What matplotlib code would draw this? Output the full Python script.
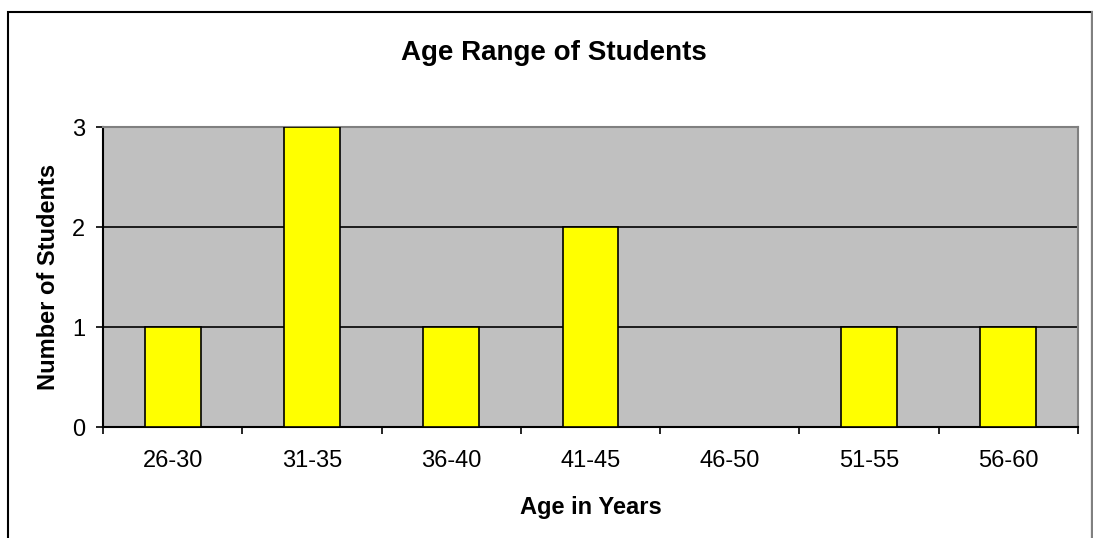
import numpy as np
import matplotlib.pyplot as plt
from matplotlib.patches import Rectangle

age_ranges = ['26-30', '31-35', '36-40', '41-45', '46-50', '51-55', '56-60']
students = [1, 3, 1, 2, 0, 1, 1]

plt.rcParams['font.family'] = ['Liberation Sans', 'DejaVu Sans']

fig = plt.figure(figsize=(10.93, 5.38), dpi=100)
W, H = 1093.0, 538.0

# outer chart frame (runs off the bottom edge)
fig.patches.append(Rectangle((8 / W, -0.05), 1084 / W, (H - 12) / H + 0.05,
                             transform=fig.transFigure, fill=False,
                             edgecolor='black', lw=1.5, zorder=0))
fig.patches.append(Rectangle((1091.5 / W, -0.05), 0.001, (H - 12) / H + 0.05,
                             transform=fig.transFigure, fill=False,
                             edgecolor='#808080', lw=1.5, zorder=1))

ax = fig.add_axes([103 / W, 1 - 427 / H, (1078 - 103) / W, (427 - 127) / H])
ax.set_facecolor('#C0C0C0')

x = np.arange(len(age_ranges))
ax.bar(x, students, width=0.4, color='#FFFF00', edgecolor='black', lw=1.2, zorder=3)

ax.set_xlim(-0.5, len(age_ranges) - 0.5)
ax.set_ylim(0, 3)
ax.set_yticks([0, 1, 2, 3])
ax.yaxis.grid(True, color='black', lw=1.2, zorder=1)
ax.set_axisbelow(True)

ax.set_xticks(x)
ax.set_xticklabels(age_ranges, fontsize=17)
ax.set_xticks(np.arange(-0.5, len(age_ranges)), minor=True)
ax.tick_params(axis='x', which='major', length=0, pad=16.5)
ax.tick_params(axis='x', which='minor', length=5, width=1.2, direction='out')
ax.tick_params(axis='y', labelsize=17, length=5, width=1.2, direction='out', pad=8)

for side in ['top', 'right']:
    ax.spines[side].set_color('#808080')
    ax.spines[side].set_linewidth(1.5)
for side in ['left', 'bottom']:
    ax.spines[side].set_color('black')
    ax.spines[side].set_linewidth(1.5)

ax.set_xlabel('Age in Years', fontsize=17, fontweight='bold')
ax.set_ylabel('Number of Students', fontsize=17, fontweight='bold')
ax.xaxis.set_label_coords(0.5, -0.23)
ax.yaxis.set_label_coords(-0.044, 0.5)
fig.text(554 / W, 1 - 53 / H, 'Age Range of Students', fontsize=20,
         fontweight='bold', ha='center', va='center')

fig.savefig('out.png', dpi=100)
